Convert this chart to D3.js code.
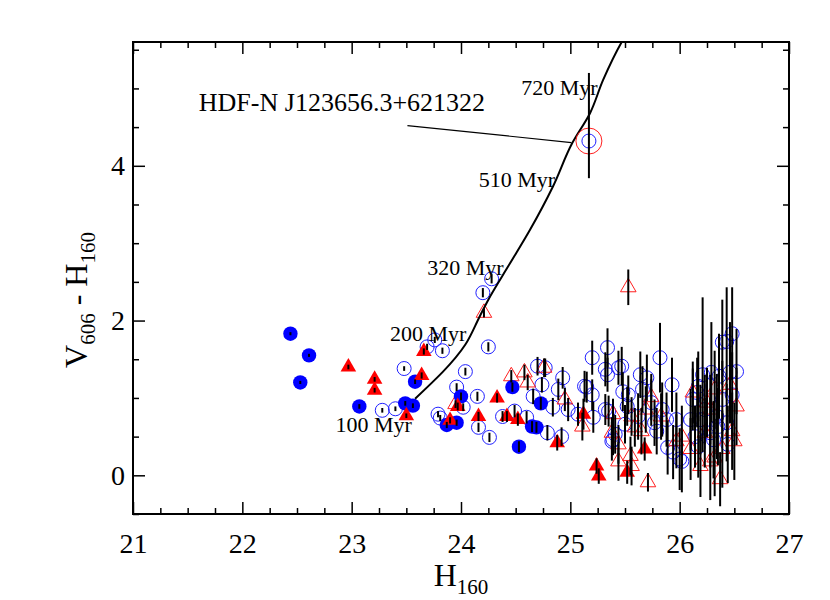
<!DOCTYPE html>
<html><head><meta charset="utf-8">
<script src="https://cdn.jsdelivr.net/npm/d3@7"></script>
<style>
body{margin:0;background:#fff;}
text{font-family:"Liberation Serif","Times New Roman",serif;fill:#000;}
</style></head>
<body><svg id="c" width="830" height="600"></svg>
<script>
// ---- data: [H160, V606-H160, error] ----
const openCircles = [[23.28,0.84,0.03],[23.40,0.86,0.03],[23.48,1.38,0.03],[23.69,1.66,0.04],[23.76,1.75,0.04],[23.83,1.61,0.04],[24.04,1.34,0.05],[23.96,1.14,0.05],[24.02,0.88,0.05],[23.79,0.79,0.04],[23.81,0.74,0.04],[24.15,1.02,0.06],[24.16,0.62,0.06],[24.20,2.36,0.06],[24.28,2.54,0.06],[24.25,1.66,0.06],[24.26,0.49,0.06],[24.38,0.76,0.07],[24.49,0.83,0.08],[24.70,1.41,0.12],[24.77,1.39,0.12],[24.74,1.17,0.10],[24.66,1.02,0.10],[24.84,0.88,0.12],[24.89,1.11,0.14],[24.93,1.26,0.14],[24.98,0.85,0.15],[24.92,0.50,0.12],[24.79,0.55,0.10],[24.60,0.75,0.08],[25.15,1.14,0.20],[25.20,1.52,0.22],[25.34,1.65,0.25],[25.32,1.37,0.22],[25.34,1.30,0.22],[25.35,0.83,0.20],[25.21,0.75,0.20],[25.07,0.79,0.15],[25.39,0.46,0.20],[25.44,1.39,0.22],[25.47,1.41,0.25],[25.13,1.15,0.20],[25.20,1.04,0.20],[25.48,1.08,0.25],[25.53,1.04,0.25],[25.64,1.30,0.30],[25.70,1.26,0.30],[25.82,1.52,0.45],[25.93,1.17,0.35],[25.66,1.11,0.30],[25.32,0.85,0.20],[25.52,0.89,0.25],[25.62,0.76,0.30],[25.74,0.94,0.30],[25.84,0.85,0.35],[25.77,0.68,0.30],[25.97,0.72,0.35],[25.41,0.53,0.25],[25.50,0.66,0.25],[25.38,0.44,0.25],[25.79,0.57,0.30],[25.89,0.36,0.35],[25.94,0.30,0.35],[26.00,0.21,0.40],[26.12,0.98,0.40],[26.17,1.15,0.45],[26.21,1.30,1.00],[26.10,0.72,0.40],[26.14,0.50,0.40],[26.17,0.37,0.40],[26.48,1.83,0.60],[26.39,1.72,0.55],[26.43,1.73,0.70],[26.52,1.34,0.55],[26.29,1.33,0.65],[26.36,1.28,0.55],[26.46,1.33,0.65],[26.48,1.04,0.55],[26.39,0.98,0.50],[26.16,1.07,0.45],[26.23,0.85,0.45],[26.19,0.72,0.45],[26.34,0.76,0.55],[26.43,0.68,0.50],[26.35,0.63,0.50],[26.28,0.55,0.45],[26.44,0.40,0.50],[25.88,0.72,0.35],[26.02,0.18,0.40],[26.31,0.46,0.50]];
const openTriangles = [[24.21,2.10,0.06],[25.53,2.43,0.23],[23.95,0.92,0.05],[24.46,1.28,0.08],[24.58,1.33,0.10],[24.61,1.20,0.10],[24.76,1.39,0.12],[24.95,0.98,0.15],[25.11,0.63,0.18],[25.39,0.79,0.20],[25.38,0.55,0.20],[25.44,0.18,0.25],[25.71,-0.09,0.12],[25.44,0.40,0.25],[25.55,0.25,0.25],[25.56,0.12,0.25],[25.59,0.62,0.25],[25.65,0.57,0.30],[25.74,1.01,0.30],[25.83,0.76,0.30],[25.97,0.44,0.35],[26.02,0.50,0.40],[26.10,0.34,0.40],[26.19,0.12,0.40],[26.12,1.07,0.40],[26.25,0.94,0.45],[26.23,0.55,0.45],[25.69,0.85,0.30],[26.46,1.17,0.50],[26.32,1.11,0.50],[26.52,0.89,0.50],[26.48,0.57,0.50],[26.50,0.44,0.50],[26.39,0.34,0.50],[26.28,0.18,0.50],[26.37,-0.05,0.35],[26.32,0.23,0.50],[26.28,0.85,0.45],[25.56,0.76,0.25]];
const filledCircles = [[22.44,1.83,0.02],[22.61,1.55,0.02],[22.53,1.20,0.02],[23.07,0.89,0.03],[23.49,0.93,0.03],[23.56,0.90,0.03],[23.58,1.21,0.03],[23.87,0.65,0.04],[23.96,0.68,0.04],[24.00,1.02,0.05],[24.47,1.14,0.06],[24.73,0.93,0.08],[24.65,0.63,0.07],[24.69,0.62,0.07],[24.53,0.37,0.07]];
const filledTriangles = [[22.97,1.40,0.03],[23.21,1.24,0.03],[23.21,1.10,0.03],[23.50,0.77,0.03],[23.66,1.60,0.04],[23.64,1.29,0.04],[23.90,0.71,0.04],[23.97,0.89,0.05],[24.16,0.76,0.06],[24.33,1.00,0.06],[24.42,0.76,0.07],[24.52,0.72,0.08],[24.88,0.42,0.10],[25.12,0.79,0.20],[25.24,0.12,0.10],[25.26,-0.01,0.10],[25.52,0.04,0.15],[25.68,0.34,0.15]];
// highlighted object HDF-N J123656.3+621322: [H160, colour, lower error, upper error]
const specialObject = [25.17, 4.32, 0.48, 0.88];
const pointerLine = [[23.51, 4.52], [25.01, 4.30]];
// age track
const trackX = [23.58, 24.04, 24.17, 24.25, 24.44, 24.63, 24.84, 25.02, 25.18, 25.30, 25.47, 25.52];
const trackY = [0.99, 1.69, 2.05, 2.27, 2.72, 3.17, 3.73, 4.30, 4.68, 5.11, 5.60, 5.72];
const ageLabels = ["720 Myr", "510 Myr", "320 Myr", "200 Myr", "100 Myr"];
const ageLabelX = [25.25, 24.86, 24.39, 24.05, 23.55];
const ageLabelY = [4.92, 3.73, 2.59, 1.73, 0.555];
const objectName = "HDF-N J123656.3+621322";
const objectLabelPos = [24.22, 4.71];
const xMajor = [21, 22, 23, 24, 25, 26, 27];
const yMajor = [0, 2, 4];

const svg = d3.select("#c");
const L = 133, R = 789, T = 42, B = 514;
const x = d3.scaleLinear().domain([21, 27]).range([L, R]);
const y = d3.scaleLinear().domain([-0.5, 5.6]).range([B, T]);
const xMinor = d3.range(21, 27.001, 0.25).filter(v => Math.abs(v - Math.round(v)) > 1e-6);
const yMinor = d3.range(-0.5, 5.6, 0.5).filter(v => !yMajor.includes(Math.round(v*10)/10));

svg.append("defs").append("clipPath").attr("id", "clip")
  .append("rect").attr("x", L).attr("y", T).attr("width", R - L).attr("height", B - T);
const plot = svg.append("g").attr("clip-path", "url(#clip)");

// markers
const tri = d3.symbol().type(d3.symbolTriangle).size(105);
plot.append("g").selectAll("circle").data(openCircles).join("circle")
  .attr("cx", d => x(d[0])).attr("cy", d => y(d[1])).attr("r", 7)
  .attr("fill", "none").attr("stroke", "#2020ff").attr("stroke-width", 1);
plot.append("g").selectAll("path").data(openTriangles).join("path")
  .attr("d", tri).attr("transform", d => `translate(${x(d[0])},${y(d[1])})`)
  .attr("fill", "none").attr("stroke", "#ff2020").attr("stroke-width", 1);
plot.append("g").selectAll("circle").data(filledCircles).join("circle")
  .attr("cx", d => x(d[0])).attr("cy", d => y(d[1])).attr("r", 7.2)
  .attr("fill", "#0000ff");
plot.append("g").selectAll("path").data(filledTriangles).join("path")
  .attr("d", tri).attr("transform", d => `translate(${x(d[0])},${y(d[1])})`)
  .attr("fill", "#ff0000");

// error bars
const allPts = openCircles.concat(openTriangles, filledCircles, filledTriangles);
plot.append("g").selectAll("line").data(allPts).join("line")
  .attr("x1", d => x(d[0])).attr("x2", d => x(d[0]))
  .attr("y1", d => y(d[1] - d[2])).attr("y2", d => y(d[1] + d[2]))
  .attr("stroke", "#000").attr("stroke-width", 2);

// track
const trackPts = trackX.map((v, i) => [v, trackY[i]]);
plot.append("path").datum(trackPts)
  .attr("d", d3.line().x(d => x(d[0])).y(d => y(d[1])).curve(d3.curveMonotoneY))
  .attr("fill", "none").attr("stroke", "#000").attr("stroke-width", 2);

// special object
plot.append("circle").attr("cx", x(specialObject[0])).attr("cy", y(specialObject[1])).attr("r", 13)
  .attr("fill", "none").attr("stroke", "#ff2020").attr("stroke-width", 1);
plot.append("circle").attr("cx", x(specialObject[0])).attr("cy", y(specialObject[1])).attr("r", 7)
  .attr("fill", "none").attr("stroke", "#2020ff").attr("stroke-width", 1);
plot.append("line").attr("x1", x(specialObject[0])).attr("x2", x(specialObject[0]))
  .attr("y1", y(specialObject[1] - specialObject[2])).attr("y2", y(specialObject[1] + specialObject[3]))
  .attr("stroke", "#000").attr("stroke-width", 2);
plot.append("line").attr("x1", x(pointerLine[0][0])).attr("y1", y(pointerLine[0][1]))
  .attr("x2", x(pointerLine[1][0])).attr("y2", y(pointerLine[1][1]))
  .attr("stroke", "#000").attr("stroke-width", 1.2);

// labels
svg.append("text").attr("x", x(objectLabelPos[0])).attr("y", y(objectLabelPos[1]))
  .attr("text-anchor", "end").attr("font-size", 26).text(objectName);
svg.append("g").selectAll("text").data(ageLabels).join("text")
  .attr("x", (d, i) => x(ageLabelX[i])).attr("y", (d, i) => y(ageLabelY[i]))
  .attr("text-anchor", "end").attr("font-size", 22).text(d => d);

// axes
function style(g) {
  g.select(".domain").remove();
  g.selectAll(".tick line").attr("stroke", "#000").attr("stroke-width", 1.5);
  g.selectAll("text").attr("font-family", "Liberation Serif").attr("font-size", 28).attr("fill", "#000");
}
svg.append("g").attr("transform", `translate(0,${B})`)
  .call(d3.axisBottom(x).tickValues(xMajor).tickSize(-12).tickPadding(19).tickFormat(d3.format("d"))).call(style);
svg.append("g").attr("transform", `translate(0,${B})`)
  .call(d3.axisBottom(x).tickValues(xMinor).tickSize(-6).tickFormat("")).call(style);
svg.append("g").attr("transform", `translate(0,${T})`)
  .call(d3.axisTop(x).tickValues(xMajor).tickSize(-12).tickFormat("")).call(style);
svg.append("g").attr("transform", `translate(0,${T})`)
  .call(d3.axisTop(x).tickValues(xMinor).tickSize(-6).tickFormat("")).call(style);
svg.append("g").attr("transform", `translate(${L},0)`)
  .call(d3.axisLeft(y).tickValues(yMajor).tickSize(-12).tickPadding(8).tickFormat(d3.format("d"))).call(style);
svg.append("g").attr("transform", `translate(${L},0)`)
  .call(d3.axisLeft(y).tickValues(yMinor).tickSize(-6).tickFormat("")).call(style);
svg.append("g").attr("transform", `translate(${R},0)`)
  .call(d3.axisRight(y).tickValues(yMajor).tickSize(-12).tickFormat("")).call(style);
svg.append("g").attr("transform", `translate(${R},0)`)
  .call(d3.axisRight(y).tickValues(yMinor).tickSize(-6).tickFormat("")).call(style);

svg.append("rect").attr("x", L).attr("y", T).attr("width", R - L).attr("height", B - T)
  .attr("fill", "none").attr("stroke", "#000").attr("stroke-width", 2);

// axis titles
const xt = svg.append("text").attr("x", x(24)).attr("y", 586).attr("text-anchor", "middle").attr("font-size", 32);
xt.append("tspan").text("H");
xt.append("tspan").attr("font-size", 21).attr("dy", 8).text("160");

const yt = svg.append("text").attr("transform", "translate(87,300) rotate(-90)").attr("text-anchor", "middle").attr("font-size", 32);
yt.append("tspan").text("V");
yt.append("tspan").attr("font-size", 21).attr("dy", 8).text("606");
yt.append("tspan").attr("dy", -8).text(" - H");
yt.append("tspan").attr("font-size", 21).attr("dy", 8).text("160");
</script></body></html>
